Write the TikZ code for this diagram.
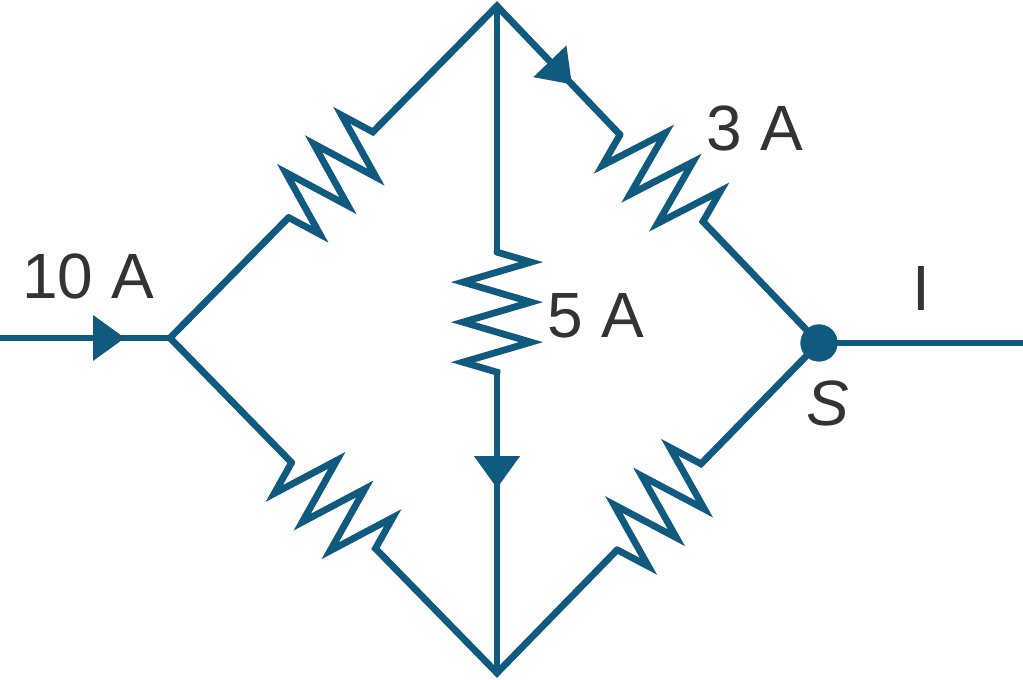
\documentclass[tikz,border=0pt]{standalone}
\usepackage{fontspec}
\setmainfont{Liberation Sans}
\usepackage{tikz}
\usetikzlibrary{arrows.meta,calc,decorations.pathmorphing,decorations.markings}
\definecolor{wireblue}{HTML}{105A80}
\definecolor{textgray}{HTML}{333333}

\begin{document}
\begin{tikzpicture}[x=0.01cm, y=-0.01cm,
  wire/.style={draw, color=wireblue, line width=0.068cm, line cap=round, line join=miter},
  resistor/.style={wire, decorate, decoration={zigzag, segment length=0.4cm, amplitude=#1}},
  current/.style={postaction={decorate, decoration={markings, mark=at position #1 with {\arrow{Triangle[length=0.32cm, width=0.44cm]}}}}},
  dot/.style={circle, fill=wireblue, minimum size=0.37cm, inner sep=0},
  textlabel/.style={font=\fontsize{18.2}{20}\selectfont, text=textgray, inner sep=0}]
\useasboundingbox (0,0) rectangle (1023,680);
%junctions
\coordinate (in) at (0,338);
\coordinate (v1) at (170,338);
\coordinate (v2) at (497,6);
\coordinate (v3) at (497,673);
\node[dot] (v4) at (819,343) {};
\coordinate (out) at (1023,343);
%resistor ends
\coordinate (r1a) at ($(v1)!1.69cm!(v2)$);
\coordinate (r1b) at ($(v1)!2.90cm!(v2)$);
\coordinate (r2a) at ($(v2)!1.78cm!(v4)$);
\coordinate (r2b) at ($(v2)!2.99cm!(v4)$);
\coordinate (r3a) at ($(v1)!1.74cm!(v3)$);
\coordinate (r3b) at ($(v1)!2.95cm!(v3)$);
\coordinate (r4a) at ($(v3)!1.72cm!(v4)$);
\coordinate (r4b) at ($(v3)!2.93cm!(v4)$);
\coordinate (r5a) at ($(v2)!2.46cm!(v3)$);
\coordinate (r5b) at ($(v2)!3.67cm!(v3)$);
%wires
\draw[wire, current=1.25cm] (in) -- (v1);
\draw[wire] (r1a) -- (v1) -- (r3a);
\draw[wire, current=2.84cm] (r1b) -- (v2) -- (r2a);
\draw[wire] (r3b) -- (v3) -- (r4a);
\draw[wire] (v2) -- (r5a);
\draw[wire, current=1.15cm] (r5b) -- (v3);
\draw[wire] (r2b) -- (v4);
\draw[wire] (r4b) -- (v4);
\draw[wire] (v4) -- (out);
\foreach \i/\amp in {1/-0.34cm, 2/-0.34cm, 3/-0.34cm, 4/-0.34cm, 5/0.34cm}
  \draw[resistor=\amp] (r\i a) -- (r\i b);
\node[dot] at (v4) {};
%currents
\node[textlabel] (l1) at (88,276) {10 A};
\node[textlabel] (l2) at (755,128) {3 A};
\node[textlabel] (l3) at (596,316) {5 A};
\node[textlabel] (l4) at (828,403) {\itshape S};
\node[textlabel] (l5) at (921,288) {I};
\end{tikzpicture}
\end{document}
